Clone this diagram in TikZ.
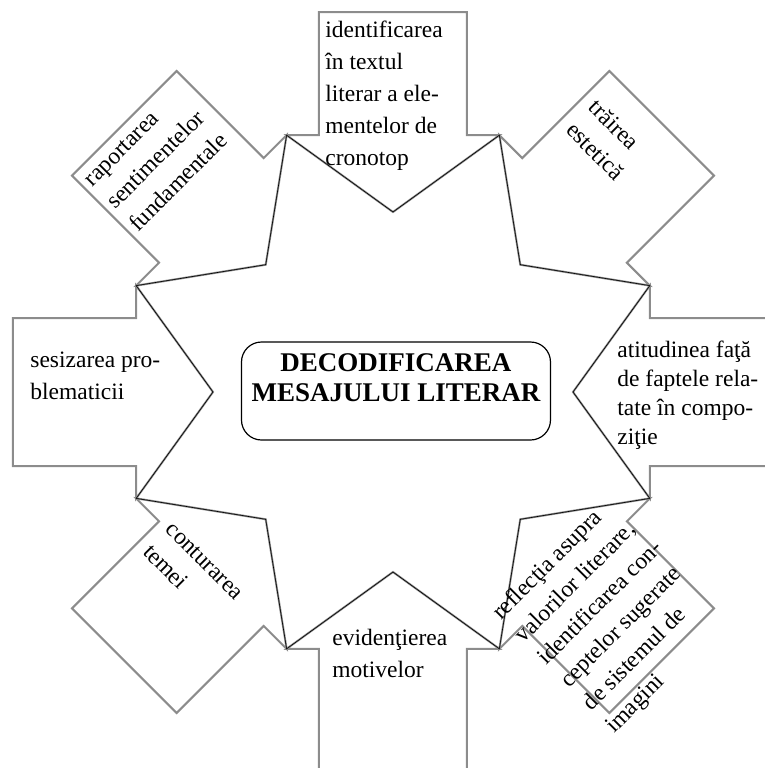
\documentclass[tikz,border=0pt]{standalone}
\usepackage{fontspec}
\setmainfont{Liberation Serif}
\usepackage{xcolor}
\usetikzlibrary{positioning}
\definecolor{boxgray}{RGB}{140,140,140}

\tikzset{
  arrowbox/.style={draw=boxgray, line width=1pt},
  starline/.style={draw=black, line width=0.3pt},
  sidetext/.style={font=\fontsize{11.75}{16}\selectfont, align=left, inner sep=0pt, anchor=north west},
  mainbox/.style={draw, rounded corners=10pt, line width=0.6pt, minimum width=154.5pt,
    minimum height=49pt, font=\fontsize{13.5}{15}\selectfont\bfseries, align=center}
}

\begin{document}
\begin{tikzpicture}[x=0.5pt, y=0.5pt]
  \clip (-393,-376) rectangle (372,392);
  % eight arrows pointing to the middle
  \foreach \a in {0,45,...,315}
    \draw[arrowbox, rotate=\a] (0,180) -- (106.4,256.8) -- (74,256.8) -- (74,380)
      -- (-74,380) -- (-74,256.8) -- (-106.4,256.8) -- cycle;
  % star
  \draw[starline] (90:180) \foreach \a in {90,135,...,405} { -- ({\a+22.5}:278) -- ({\a+45}:180) } -- cycle;

  \node[mainbox] (mesaj) at (3,1) {DECODIFICAREA\\MESAJULUI LITERAR\rule[-13pt]{0pt}{0pt}};

  \node[sidetext] (cronotop) at (-68,371) {identificarea\\în textul\\literar a ele-\\mentelor de\\cronotop};
  \node[sidetext, rotate=45] (sentimente) at (-310,214) {raportarea\\sentimentelor\\fundamentale};
  \node[sidetext, rotate=-45] (estetica) at (206,295) {trăirea\\estetică};
  \node[sidetext] (problematica) at (-363,40) {sesizarea pro-\\blematicii};
  \node[sidetext, font=\fontsize{11.75}{14.5}\selectfont] (atitudine) at (224,51) {atitudinea faţă\\de faptele rela-\\tate în compo-\\ziţie};
  \node[sidetext, rotate=-45] (tema) at (-219,-129) {conturarea\\temei};
  \node[sidetext] (motive) at (-61,-237) {evidenţierea\\motivelor};
  \node[sidetext, rotate=45] (reflectie) at (96,-217) {reflecţia asupra\\valorilor literare,\\identificarea con-\\ceptelor sugerate\\de sistemul de\\imagini};
\end{tikzpicture}
\end{document}
